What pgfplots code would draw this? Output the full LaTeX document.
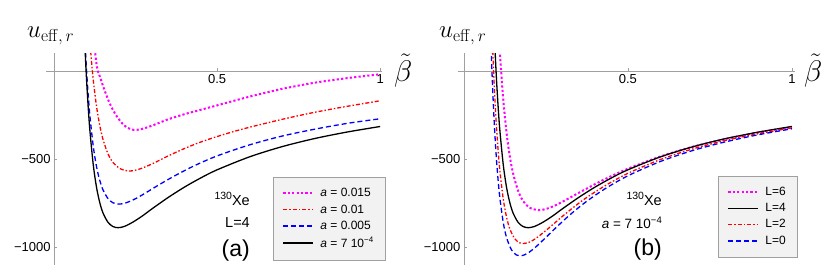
\documentclass[border=0pt]{standalone}
\usepackage[no-math]{fontspec}
\setmainfont{Liberation Sans}
\usepackage{graphicx}
\usepackage{pgfplots}
\pgfplotsset{compat=1.18}

\definecolor{mag}{RGB}{255,0,255}
\definecolor{axgray}{RGB}{160,160,160}
\definecolor{legfill}{RGB}{242,242,242}

\pgfplotsset{
 panel/.style={
  scale only axis, axis lines=middle,
  axis line style={axgray, line width=0.6pt, -},
  height=211.9pt, ymin=-1102, ymax=102,
  ytick={-1000,-500}, yticklabels={−1000,−500},
  xtick={0.5,1}, xticklabels={0.5,1},
  tick style={axgray, line width=0.5pt}, tick align=inside, major tick length=3pt,
  tick label style={font=\fontsize{13}{13}\selectfont},
  legend style={fill=legfill, draw=axgray, font=\fontsize{12}{12}\selectfont,
     inner xsep=9pt, inner ysep=9pt, row sep=2.5pt,
     /tikz/every odd column/.append style={column sep=4pt}},
  legend cell align=left,
  legend image code/.code={\draw[##1] (0pt,0pt) -- (30pt,0pt);},
 },
 smag/.style={mag, line width=2pt, dash pattern=on 2.2pt off 2.2pt, smooth},
 sred/.style={red, line width=1.3pt, dash pattern=on 4pt off 2pt on 1.5pt off 2pt, smooth},
 sblue/.style={blue, line width=1.3pt, dash pattern=on 5pt off 3pt, smooth},
 sblack/.style={black, line width=1.3pt, smooth},
}

\newcommand{\ulab}{\scalebox{1.2}{\fontsize{20.74}{20.74}\selectfont$u$}\raisebox{-4pt}{\fontsize{17.28}{17.28}\selectfont$\mathrm{eff},r$}}
\newcommand{\blab}{\scalebox{1.2}{\fontsize{24.88}{24.88}\selectfont$\tilde{\beta}$}}

\begin{document}
\begin{tikzpicture}
\path[use as bounding box] (0,0) rectangle (830pt,277pt);

% ---------------- panel (a)
\begin{axis}[panel, at={(46pt,12pt)}, anchor=south west,
  width=335.8pt, xmin=-0.025, xmax=1.005,
  legend style={at={(1.0095,0.0236)}, anchor=south east}]
\addplot[smag] coordinates {
(0.126,101) (0.13,40) (0.134,0) (0.141,-35) (0.15,-85) (0.165,-160) (0.18,-220)
(0.195,-265) (0.21,-300) (0.225,-322) (0.243,-334) (0.265,-331) (0.29,-317)
(0.32,-296) (0.35,-274) (0.4,-245) (0.45,-220) (0.5,-195) (0.6,-145) (0.7,-101)
(0.8,-66) (0.9,-40) (1.0,-18)};
\addlegendentry{\textit{a} = 0.015\hspace{4pt}}
\addplot[sred] coordinates {
(0.112,112) (0.115,46) (0.12,-51) (0.13,-201) (0.14,-310) (0.15,-389) (0.165,-470)
(0.18,-518) (0.2,-552) (0.215,-563) (0.233,-568) (0.26,-558) (0.3,-528) (0.35,-482)
(0.4,-440) (0.45,-403) (0.5,-372) (0.55,-344) (0.6,-319) (0.7,-274) (0.8,-234)
(0.9,-200) (1.0,-169)};
\addlegendentry{\textit{a} = 0.01}
\addplot[sblue] coordinates {
(0.095,150) (0.098,47) (0.1,-15) (0.105,-150) (0.11,-261) (0.12,-428) (0.13,-543)
(0.14,-622) (0.15,-676) (0.165,-724) (0.18,-748) (0.199,-756) (0.22,-749)
(0.25,-725) (0.28,-693) (0.32,-648) (0.37,-595) (0.43,-538) (0.5,-482)
(0.6,-419) (0.7,-369) (0.8,-330) (0.9,-297) (1.0,-271)};
\addlegendentry{\textit{a} = 0.005}
\addplot[sblack] coordinates {
(0.094,158) (0.097,37) (0.1,-70) (0.105,-222) (0.11,-346) (0.12,-533) (0.13,-661)
(0.14,-748) (0.15,-807) (0.165,-859) (0.18,-883) (0.196,-890) (0.215,-883)
(0.24,-860) (0.27,-824) (0.3,-783) (0.35,-718) (0.4,-659) (0.45,-607)
(0.5,-561) (0.6,-487) (0.7,-429) (0.8,-383) (0.9,-346) (1.0,-315)};
\addlegendentry{\textit{a} = 7 10\textsuperscript{−4}}
\end{axis}

% ---------------- panel (b)
\begin{axis}[panel, at={(458pt,12pt)}, anchor=south west,
  width=336.9pt, xmin=-0.018, xmax=1.009,
  legend style={at={(1.006,0.0378)}, anchor=south east}]
\addplot[smag] coordinates {
(0.108,168) (0.111,72) (0.115,-42) (0.12,-163) (0.13,-351) (0.14,-486) (0.15,-582)
(0.165,-679) (0.18,-737) (0.2,-776) (0.227,-790) (0.25,-784) (0.28,-762)
(0.32,-723) (0.37,-672) (0.43,-614) (0.5,-555) (0.6,-485) (0.7,-429)
(0.8,-385) (0.9,-348) (1.0,-318)};
\addlegendentry{L=6\hspace{15pt}}
\addplot[sblack] coordinates {
(0.094,158) (0.097,37) (0.1,-70) (0.105,-222) (0.11,-346) (0.12,-533) (0.13,-661)
(0.14,-748) (0.15,-807) (0.165,-859) (0.18,-883) (0.196,-890) (0.215,-883)
(0.24,-860) (0.27,-824) (0.3,-783) (0.35,-718) (0.4,-659) (0.45,-607)
(0.5,-561) (0.6,-487) (0.7,-429) (0.8,-383) (0.9,-346) (1.0,-315)};
\addlegendentry{L=4}
\addplot[sred] coordinates {
(0.088,113) (0.09,21) (0.093,-104) (0.097,-246) (0.1,-338) (0.105,-467) (0.11,-573)
(0.12,-728) (0.13,-830) (0.14,-897) (0.155,-953) (0.17,-976) (0.181,-980)
(0.2,-972) (0.22,-950) (0.25,-906) (0.28,-858) (0.32,-795) (0.37,-724)
(0.43,-652) (0.5,-581) (0.6,-502) (0.7,-441) (0.8,-393) (0.9,-355) (1.0,-323)};
\addlegendentry{L=2}
\addplot[sblue] coordinates {
(0.083,130) (0.085,24) (0.088,-116) (0.092,-276) (0.096,-409) (0.1,-521)
(0.105,-635) (0.11,-727) (0.12,-861) (0.13,-946) (0.145,-1016) (0.16,-1045)
(0.171,-1050) (0.185,-1044) (0.2,-1028) (0.22,-998) (0.25,-945) (0.28,-891)
(0.32,-822) (0.37,-746) (0.43,-669) (0.5,-595) (0.6,-513) (0.7,-450)
(0.8,-401) (0.9,-361) (1.0,-328)};
\addlegendentry{L=0}
\end{axis}

% ---------------- labels and annotations
\node[anchor=base west, inner sep=0pt] at (27pt,240pt) {\ulab};
\node[anchor=base west, inner sep=0pt] at (439pt,240pt) {\ulab};
\node[anchor=base west, inner sep=0pt] at (394pt,196pt) {\blab};
\node[anchor=base west, inner sep=0pt] at (804pt,196pt) {\blab};

\node[anchor=base east, inner sep=0pt, font=\fontsize{14.5}{14.5}\selectfont] at (250pt,72pt)
  {\raisebox{5.5pt}{\fontsize{10.5}{10.5}\selectfont 130}Xe};
\node[anchor=base east, inner sep=0pt, font=\fontsize{14.5}{14.5}\selectfont] at (250pt,50pt) {L=4};
\node[anchor=base east, inner sep=0pt, font=\fontsize{23}{23}\selectfont] at (250pt,21pt) {(a)};

\node[anchor=base east, inner sep=0pt, font=\fontsize{14.5}{14.5}\selectfont] at (662pt,72pt)
  {\raisebox{5.5pt}{\fontsize{10.5}{10.5}\selectfont 130}Xe};
\node[anchor=base east, inner sep=0pt, font=\fontsize{13.5}{13.5}\selectfont] at (662pt,49pt)
  {\textit{a} = 7 10\raisebox{5pt}{\fontsize{9.5}{9.5}\selectfont −4}};
\node[anchor=base east, inner sep=0pt, font=\fontsize{23}{23}\selectfont] at (662pt,22pt) {(b)};
\end{tikzpicture}
\end{document}
